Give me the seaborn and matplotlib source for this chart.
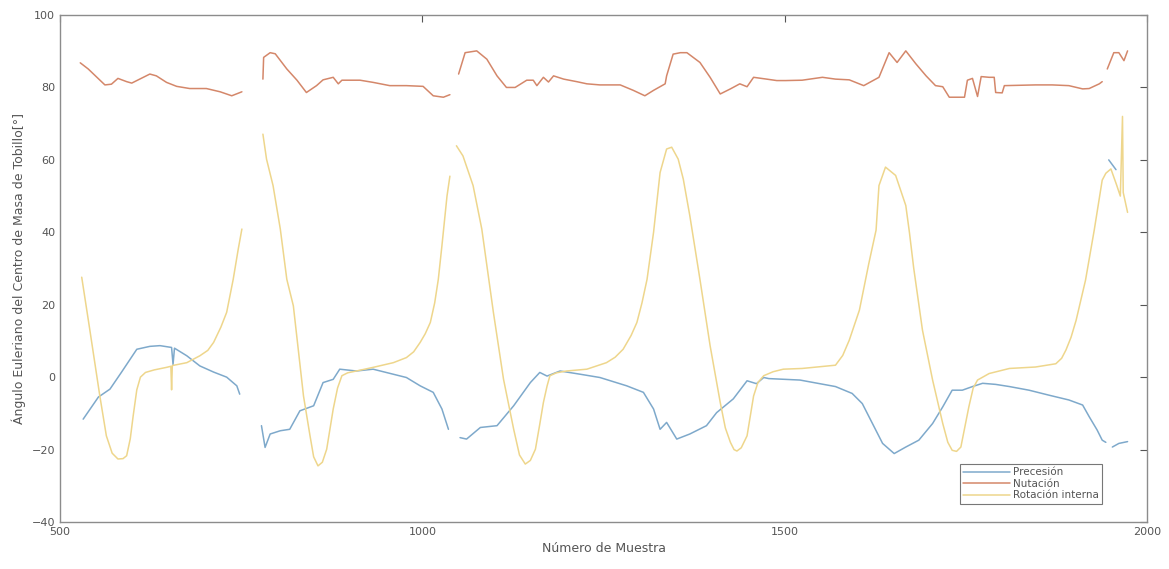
import pandas as pd
import seaborn as sns
import matplotlib.pyplot as plt

# valores, por tramos (la curva tiene huecos)
prec_x1 = [532, 553, 569, 585, 606, 624, 638, 654, 656, 658, 675, 693, 712, 730, 744, 748]
prec_y1 = [-11.6, -5.5, -3.3, 1.4, 7.7, 8.5, 8.7, 8.2, 3.5, 8.0, 5.9, 3.1, 1.4, 0.0, -2.4, -4.7]
prec_x2 = [778, 783, 790, 804, 817, 831, 850, 863, 877, 886, 909, 932, 960, 978, 997, 1015, 1027, 1036]
prec_y2 = [-13.4, -19.4, -15.7, -14.8, -14.4, -9.3, -7.9, -1.5, -0.6, 2.2, 1.7, 2.2, 0.8, -0.1, -2.4, -4.2, -8.8, -14.4]
prec_x3 = [1052, 1061, 1080, 1103, 1126, 1149, 1162, 1172, 1190, 1218, 1245, 1282, 1305, 1319, 1328,
           1337, 1351, 1369, 1392, 1406, 1429, 1448, 1461, 1471, 1478, 1521, 1570, 1593, 1607, 1621,
           1635, 1651, 1667, 1685, 1704, 1718, 1731, 1745, 1759, 1773, 1791, 1810, 1837, 1865, 1892,
           1911, 1920, 1931, 1938, 1943]
prec_y3 = [-16.7, -17.1, -13.9, -13.4, -7.9, -1.5, 1.3, 0.3, 1.7, 0.8, -0.1, -2.4, -4.2, -8.8, -14.4,
           -12.5, -17.1, -15.7, -13.4, -9.8, -6.0, -1.0, -1.8, -0.1, -0.4, -0.8, -2.6, -4.5, -7.3, -12.8,
           -18.3, -21.1, -19.3, -17.4, -12.8, -8.2, -3.6, -3.6, -2.6, -1.7, -2.0, -2.6, -3.6, -5.0, -6.3,
           -7.7, -10.9, -14.6, -17.4, -18.0]
prec_x4 = [1947, 1957]
prec_y4 = [60.0, 57.3]
prec_x5 = [1952, 1961, 1973]
prec_y5 = [-19.3, -18.3, -17.8]

nut_x1 = [528, 539, 551, 562, 571, 580, 592, 599, 610, 624, 633, 647, 661, 679, 702, 721, 737, 751]
nut_y1 = [86.8, 85.1, 82.8, 80.7, 80.9, 82.5, 81.6, 81.2, 82.3, 83.7, 83.2, 81.4, 80.3, 79.7, 79.7, 78.8, 77.7, 78.8]
nut_x2 = [780, 781, 790, 797, 813, 827, 840, 854, 863, 877, 884, 889, 914, 932, 955, 978, 1001, 1015, 1029, 1038]
nut_y2 = [82.3, 88.3, 89.6, 89.3, 85.1, 82.0, 78.6, 80.5, 82.1, 82.8, 81.0, 82.0, 82.0, 81.4, 80.5, 80.5, 80.3, 77.7, 77.3, 78.0]
nut_x3 = [1050, 1059, 1075, 1089, 1103, 1116, 1128, 1144, 1153, 1158, 1167, 1174, 1181, 1195, 1213,
          1227, 1245, 1273, 1291, 1307, 1319, 1335, 1337, 1346, 1356, 1365, 1383, 1397, 1411, 1425,
          1438, 1448, 1457, 1475, 1489, 1501, 1524, 1552, 1570, 1589, 1609, 1630, 1644, 1655, 1667,
          1681, 1695, 1708, 1718, 1727, 1748, 1752, 1759, 1766, 1771, 1782, 1789, 1791, 1800, 1803,
          1846, 1869, 1892, 1911, 1920, 1934, 1938]
nut_y3 = [83.7, 89.6, 90.1, 87.8, 83.2, 80.0, 80.0, 82.0, 82.0, 80.5, 82.8, 81.5, 83.2, 82.3, 81.6,
          81.0, 80.7, 80.7, 79.2, 77.7, 79.2, 81.0, 83.2, 89.2, 89.6, 89.6, 86.9, 82.8, 78.2, 79.6,
          81.0, 80.2, 82.8, 82.3, 81.9, 81.9, 82.0, 82.8, 82.3, 82.1, 80.5, 82.8, 89.6, 86.9, 90.1,
          86.5, 83.2, 80.5, 80.2, 77.3, 77.3, 82.0, 82.5, 77.5, 83.0, 82.8, 82.8, 78.6, 78.5, 80.5,
          80.7, 80.7, 80.5, 79.6, 79.7, 81.0, 81.6]
nut_x4 = [1945, 1954, 1961, 1968, 1973]
nut_y4 = [85.1, 89.6, 89.6, 87.4, 90.1]

rot_x1 = [530, 541, 555, 564, 572, 580, 587, 592, 597, 601, 606, 611, 618, 630, 647, 653, 654, 655,
          675, 693, 704, 712, 722, 730, 739, 746, 751]
rot_y1 = [27.6, 13.3, -5.2, -16.2, -21.0, -22.6, -22.5, -21.7, -17.0, -10.7, -3.5, 0.0, 1.3, 2.0, 2.7,
          3.0, -3.5, 3.2, 4.0, 5.9, 7.4, 9.6, 13.8, 17.9, 27.0, 35.4, 40.9]
rot_x2 = [780, 785, 794, 804, 813, 822, 836, 845, 850, 856, 862, 868, 877, 883, 889, 897, 909, 932,
          960, 978, 988, 997, 1004, 1011, 1017, 1022, 1027, 1034, 1038]
rot_y2 = [67.1, 60.2, 52.9, 40.9, 27.0, 19.7, -5.2, -16.2, -22.0, -24.5, -23.5, -19.9, -8.8, -3.0, 0.4,
          1.2, 1.7, 2.7, 4.0, 5.4, 7.0, 9.6, 12.0, 15.1, 20.5, 27.0, 36.3, 50.0, 55.5]
rot_x3 = [1047, 1056, 1070, 1082, 1098, 1112, 1126, 1134, 1142, 1149, 1156, 1162, 1167, 1172, 1176,
          1185, 1199, 1227, 1254, 1266, 1277, 1288, 1296, 1303, 1310, 1319, 1328, 1337, 1344, 1353,
          1360, 1369, 1383, 1397, 1411, 1418, 1425, 1430, 1434, 1440, 1448, 1457, 1463, 1471, 1484,
          1498, 1524, 1570, 1580, 1589, 1603, 1616, 1626, 1630, 1639, 1653, 1667, 1672, 1678, 1690,
          1704, 1718, 1725, 1731, 1737, 1743, 1754, 1760, 1766, 1782, 1810, 1846, 1874, 1882, 1888,
          1895, 1902, 1915, 1927, 1938, 1943, 1950, 1958, 1963, 1966, 1967, 1973]
rot_y3 = [63.9, 61.1, 52.9, 40.9, 17.9, -0.6, -14.4, -21.5, -24.0, -23.0, -19.9, -13.0, -7.0, -2.5, 0.4,
          1.2, 1.7, 2.2, 4.0, 5.5, 7.7, 11.5, 15.1, 20.5, 27.0, 40.0, 56.5, 63.0, 63.5, 60.2,
          54.7, 44.6, 27.0, 8.7, -7.0, -14.0, -18.0, -20.0, -20.4, -19.5, -16.2, -5.2, -1.5, 0.4, 1.5,
          2.2, 2.4, 3.3, 6.0, 10.2, 18.5, 31.4, 40.6, 52.9, 58.0, 55.7, 47.4, 40.0, 30.0, 13.0,
          -0.8, -12.8, -18.0, -20.2, -20.5, -19.3, -8.2, -3.0, -0.8, 1.0, 2.4, 2.8, 3.7, 5.2, 7.5,
          11.0, 15.7, 26.8, 40.6, 54.4, 56.3, 57.5, 53.0, 50.0, 72.0, 51.0, 45.5]

series = {
    'Precesión': [(prec_x1, prec_y1), (prec_x2, prec_y2), (prec_x3, prec_y3), (prec_x4, prec_y4), (prec_x5, prec_y5)],
    'Nutación': [(nut_x1, nut_y1), (nut_x2, nut_y2), (nut_x3, nut_y3), (nut_x4, nut_y4)],
    'Rotación interna': [(rot_x1, rot_y1), (rot_x2, rot_y2), (rot_x3, rot_y3)],
}

rows = []
for name, parts in series.items():
    for i, (xs, ys) in enumerate(parts):
        for xv, yv in zip(xs, ys):
            rows.append({'x': xv, 'y': yv, 'serie': name, 'tramo': name + str(i)})
df = pd.DataFrame(rows)

colores = {'Precesión': '#7ea9cb', 'Nutación': '#d4876a', 'Rotación interna': '#eed68c'}

sns.set_style('white')
plt.rcParams['font.family'] = ['DejaVu Sans']

fig = plt.figure(figsize=(11.69, 5.69), dpi=100)
ax = fig.add_axes([0.0513, 0.0826, 0.93, 0.891])

sns.lineplot(data=df, x='x', y='y', hue='serie', units='tramo', estimator=None, sort=False,
             palette=colores, linewidth=1.1, ax=ax)

ax.set_xlim(500, 2000)
ax.set_ylim(-40, 100)
ax.set_xticks([500, 1000, 1500, 2000])
ax.set_yticks(range(-40, 101, 20))
ax.tick_params(direction='in', top=True, right=True, length=5, width=0.8,
               colors='#555555', labelsize=8, labelcolor='#555555')
for s in ax.spines.values():
    s.set_color('#8c8c8c')
    s.set_linewidth(1.0)

ax.set_xlabel('Número de Muestra', fontsize=9, color='#555555')
ax.set_ylabel('Ángulo Euleriano del Centro de Masa de Tobillo[°]', fontsize=9, color='#555555')

leg = ax.legend(loc='lower right', bbox_to_anchor=(0.963, 0.026), fontsize=7.5, frameon=True,
                fancybox=False, edgecolor='#555555', borderpad=0.3, handlelength=4.5,
                labelspacing=0.15, handletextpad=0.3)
leg.get_frame().set_linewidth(0.8)
for t in leg.get_texts():
    t.set_color('#555555')

fig.savefig('out.png', dpi=100)
